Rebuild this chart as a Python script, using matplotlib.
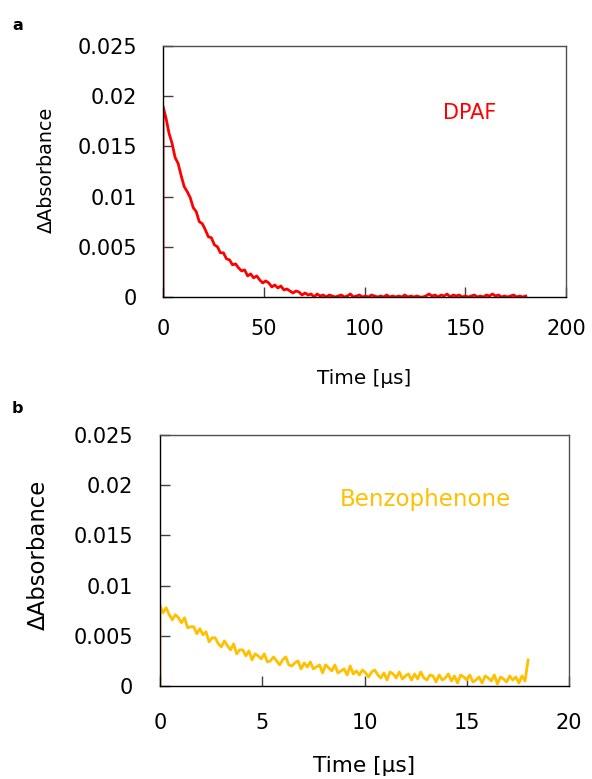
import numpy as np
import matplotlib

matplotlib.use("Agg")
import matplotlib.pyplot as plt

# DPAF transient, sampled every 1.5 us (a zero baseline point is added at t = 0)
dpaf_step_us = 1.5
dpaf_absorbance = [
    0.0190, 0.0178, 0.0163, 0.0153, 0.0139, 0.0133, 0.0121, 0.0110, 0.0105, 0.0099,
    0.0089, 0.0085, 0.0075, 0.0073, 0.0067, 0.0060, 0.0059, 0.0052, 0.0050, 0.0044,
    0.0044, 0.0038, 0.0037, 0.0032, 0.0033, 0.0029, 0.0026, 0.0027, 0.0021, 0.0023,
    0.0019, 0.0021, 0.0017, 0.0014, 0.0016, 0.0014, 0.0010, 0.0012, 0.0009, 0.0011,
    0.0007, 0.0008, 0.0006, 0.0004, 0.0006, 0.0005, 0.0002, 0.0004, 0.0002, 0.0003,
    0.0000, 0.0003, 0.0001, 0.0002, 0.0000, 0.0002, 0.0001, 0.0000, 0.0001,
    0.0002, 0.0000, 0.0001, 0.0003, 0.0000, 0.0001, 0.0002, 0.0000, 0.0001, 0.0000,
    0.0002, 0.0001, 0.0000, 0.0001, 0.0000, 0.0002, 0.0000, 0.0001, 0.0000, 0.0001,
    0.0000, 0.0002, 0.0000, 0.0001, 0.0000, 0.0001, 0.0000, 0.0000, 0.0001, 0.0003,
    0.0001, 0.0002, 0.0000, 0.0002, 0.0001, 0.0003, 0.0000, 0.0002, 0.0001, 0.0002,
    0.0000, 0.0001, 0.0000, 0.0001, 0.0002, 0.0000, 0.0001, 0.0000, 0.0002, 0.0001,
    0.0003, 0.0001, 0.0002, 0.0000, 0.0001, 0.0000, 0.0001, 0.0002, 0.0000, 0.0001,
    0.0000, 0.0001,
]

# Benzophenone transient, sampled every 0.15 us, spike at the end of the record
bzp_step_us = 0.15
bzp_absorbance = [
    0.0080, 0.0073, 0.0078, 0.0071, 0.0066, 0.0071, 0.0068, 0.0063, 0.0068, 0.0058,
    0.0059, 0.0059, 0.0052, 0.0057, 0.0051, 0.0054, 0.0044, 0.0048, 0.0048, 0.0042,
    0.0039, 0.0045, 0.0040, 0.0036, 0.0042, 0.0032, 0.0036, 0.0036, 0.0030, 0.0035,
    0.0026, 0.0032, 0.0030, 0.0027, 0.0032, 0.0024, 0.0025, 0.0029, 0.0025, 0.0021,
    0.0026, 0.0029, 0.0021, 0.0020, 0.0023, 0.0025, 0.0017, 0.0023, 0.0019, 0.0024,
    0.0017, 0.0019, 0.0021, 0.0013, 0.0021, 0.0018, 0.0015, 0.0021, 0.0013, 0.0015,
    0.0017, 0.0011, 0.0020, 0.0012, 0.0015, 0.0011, 0.0016, 0.0013, 0.0009, 0.0014,
    0.0016, 0.0011, 0.0008, 0.0013, 0.0006, 0.0014, 0.0012, 0.0008, 0.0014, 0.0007,
    0.0010, 0.0012, 0.0006, 0.0012, 0.0007, 0.0014, 0.0008, 0.0006, 0.0011, 0.0010,
    0.0004, 0.0011, 0.0006, 0.0008, 0.0012, 0.0005, 0.0010, 0.0003, 0.0011, 0.0009,
    0.0006, 0.0011, 0.0004, 0.0006, 0.0009, 0.0003, 0.0010, 0.0008, 0.0005, 0.0011,
    0.0002, 0.0009, 0.0007, 0.0004, 0.0010, 0.0006, 0.0009, 0.0003, 0.0010, 0.0005,
    0.0026,
]

y_ticks = [0.0, 0.005, 0.01, 0.015, 0.02, 0.025]
y_tick_labels = ["0", "0.005", "0.01", "0.015", "0.02", "0.025"]
dpaf_x_ticks = [0, 50, 100, 150, 200]
bzp_x_ticks = [0, 5, 10, 15, 20]

W, H = 592, 779


def trace(values, step):
    # prepend the zero baseline at t = 0 so the trigger edge is drawn
    t = np.concatenate([[0.0], np.arange(len(values)) * step])
    y = np.concatenate([[0.0], values])
    return t, y


def style_axes(ax, x_ticks, xmax, ypad, xpad):
    ax.set_xlim(0, xmax)
    ax.set_ylim(0, 0.025)
    ax.set_xticks(x_ticks)
    ax.set_xticklabels([str(v) for v in x_ticks])
    ax.set_yticks(y_ticks)
    ax.set_yticklabels(y_tick_labels)
    ax.tick_params(direction="in", length=7, width=1, color="#404040", labelsize=15)
    ax.tick_params(axis="y", pad=ypad)
    ax.tick_params(axis="x", pad=xpad)
    for side in ("top", "right"):
        ax.spines[side].set_color("#505050")
    for side in ("left", "bottom"):
        ax.spines[side].set_color("black")
    for sp in ax.spines.values():
        sp.set_linewidth(1.0)


def main():
    plt.rcParams["font.family"] = ["DejaVu Sans"]
    fig = plt.figure(figsize=(W / 100, H / 100), dpi=100)

    # panel a
    ax_a = fig.add_axes([163 / W, (H - 297) / H, 403 / W, 251 / H])
    t, y = trace(dpaf_absorbance, dpaf_step_us)
    ax_a.plot(t, y, color="#FF0000", linewidth=2.0)
    style_axes(ax_a, dpaf_x_ticks, 200, 18.5, 15.5)
    ax_a.text(152, 0.0183, "DPAF", color="#FF0000", fontsize=15, ha="center", va="center")
    ax_a.set_xlabel("Time [µs]", fontsize=14.4)
    ax_a.xaxis.set_label_coords(0.5, -0.323)
    ax_a.xaxis.label.set_va("center")
    ax_a.set_ylabel("ΔAbsorbance", fontsize=13.8)
    ax_a.yaxis.set_label_coords(-0.290, 0.506)
    ax_a.yaxis.label.set_va("center")

    # panel b
    ax_b = fig.add_axes([160 / W, (H - 686) / H, 409 / W, 251 / H])
    t, y = trace(bzp_absorbance, bzp_step_us)
    ax_b.plot(t, y, color="#FFC000", linewidth=2.0)
    style_axes(ax_b, bzp_x_ticks, 20, 19.5, 19.5)
    ax_b.text(12.96, 0.0186, "Benzophenone", color="#FFC000", fontsize=16.5, ha="center", va="center")
    ax_b.set_xlabel("Time [µs]", fontsize=15.6)
    ax_b.xaxis.set_label_coords(0.5, -0.319)
    ax_b.xaxis.label.set_va("center")
    ax_b.set_ylabel("ΔAbsorbance", fontsize=16.4)
    ax_b.yaxis.set_label_coords(-0.298, 0.522)
    ax_b.yaxis.label.set_va("center")

    fig.text(12 / W, 1 - 30 / H, "a", fontsize=11.5, fontweight="bold", va="baseline")
    fig.text(12 / W, 1 - 413 / H, "b", fontsize=11.5, fontweight="bold", va="baseline")

    fig.savefig("out.png", dpi=100)
    plt.close(fig)


if __name__ == "__main__":
    main()
